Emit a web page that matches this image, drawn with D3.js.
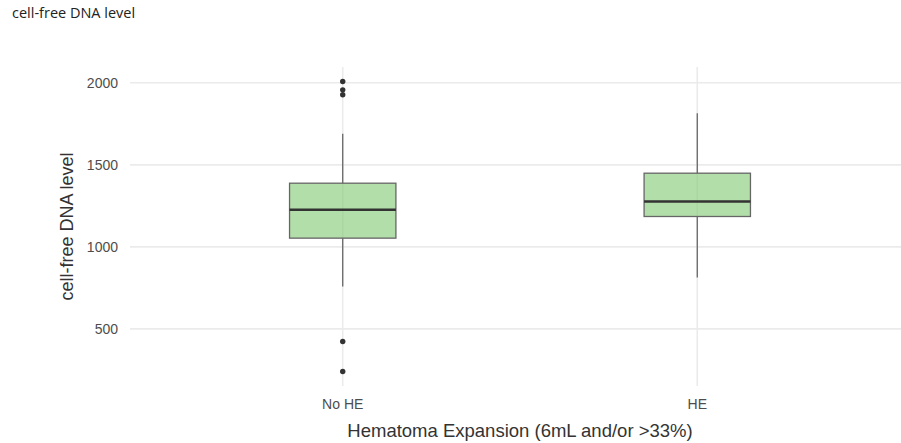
<!DOCTYPE html>
<html>
<head>
<meta charset="utf-8">
<script src="https://cdn.jsdelivr.net/npm/d3@7"></script>
<style>
  html, body { margin: 0; padding: 0; background: #fff; }
  svg { display: block; }
</style>
</head>
<body>
<script>
// Box-plot summaries of cell-free DNA level by hematoma expansion group
const groups     = ["No HE", "HE"];
const whiskerLow = [758, 813];
const q1         = [1053, 1185];
const medians    = [1226, 1276];
const q3         = [1388, 1449];
const whiskerHigh= [1689, 1815];
const outliers   = [[2008, 1957, 1927, 423, 240], []];
const yTicks     = [500, 1000, 1500, 2000];

const W = 901, H = 443;
const panel = { left: 130, right: 910, top: 67, bottom: 386 };

const svg = d3.select("body").append("svg")
  .attr("width", W).attr("height", H);

// y domain: full data range with 5% padding on each side
const allVals = whiskerLow.concat(whiskerHigh, outliers.flat());
const lo = d3.min(allVals), hi = d3.max(allVals);
const pad = (hi - lo) * 0.05;

const y = d3.scaleLinear()
  .domain([lo - pad, hi + pad])
  .range([panel.bottom, panel.top]);

const x = d3.scalePoint()
  .domain(groups)
  .range([panel.left, panel.right])
  .padding(0.6);

const boxW = x.step() * 0.3;

// grid
const grid = svg.append("g");
grid.selectAll("line.h").data(yTicks).join("line")
  .attr("x1", panel.left).attr("x2", panel.right)
  .attr("y1", d => y(d)).attr("y2", d => y(d))
  .attr("stroke", "#ebebeb").attr("stroke-width", 1.6);
grid.selectAll("line.v").data(groups).join("line")
  .attr("x1", d => x(d)).attr("x2", d => x(d))
  .attr("y1", panel.top).attr("y2", panel.bottom)
  .attr("stroke", "#ebebeb").attr("stroke-width", 1.6);

// y tick labels
svg.append("g").selectAll("text").data(yTicks).join("text")
  .attr("x", 118).attr("y", d => y(d))
  .attr("dy", "0.35em")
  .attr("text-anchor", "end")
  .attr("font-family", "Liberation Sans, Arial, sans-serif")
  .attr("font-size", 14)
  .attr("fill", "#4d4d4d")
  .text(d => d);

// x tick labels
svg.append("g").selectAll("text").data(groups).join("text")
  .attr("x", d => x(d)).attr("y", 409)
  .attr("text-anchor", "middle")
  .attr("font-family", "Liberation Sans, Arial, sans-serif")
  .attr("font-size", 14)
  .attr("fill", "#4d4d4d")
  .text(d => d);

// boxes
const boxes = svg.append("g").selectAll("g").data(groups).join("g");

boxes.append("line")
  .attr("x1", d => x(d)).attr("x2", d => x(d))
  .attr("y1", (d, i) => y(whiskerHigh[i])).attr("y2", (d, i) => y(q3[i]))
  .attr("stroke", "#666").attr("stroke-width", 1.3);
boxes.append("line")
  .attr("x1", d => x(d)).attr("x2", d => x(d))
  .attr("y1", (d, i) => y(q1[i])).attr("y2", (d, i) => y(whiskerLow[i]))
  .attr("stroke", "#666").attr("stroke-width", 1.3);

boxes.append("rect")
  .attr("x", d => x(d) - boxW / 2)
  .attr("width", boxW)
  .attr("y", (d, i) => y(q3[i]))
  .attr("height", (d, i) => y(q1[i]) - y(q3[i]))
  .attr("fill", "#7fc870").attr("fill-opacity", 0.6)
  .attr("stroke", "#666").attr("stroke-width", 1.3);

boxes.append("line")
  .attr("x1", d => x(d) - boxW / 2).attr("x2", d => x(d) + boxW / 2)
  .attr("y1", (d, i) => y(medians[i])).attr("y2", (d, i) => y(medians[i]))
  .attr("stroke", "#333").attr("stroke-width", 2.4);

boxes.each(function (d, i) {
  d3.select(this).selectAll("circle").data(outliers[i]).join("circle")
    .attr("cx", x(d)).attr("cy", v => y(v))
    .attr("r", 2.7).attr("fill", "#333");
});

// axis titles
svg.append("text")
  .attr("x", (panel.left + panel.right) / 2).attr("y", 437)
  .attr("text-anchor", "middle")
  .attr("font-family", "Liberation Sans, Arial, sans-serif")
  .attr("font-size", 18.5)
  .attr("fill", "#333")
  .text("Hematoma Expansion (6mL and/or >33%)");

svg.append("text")
  .attr("transform", `translate(73,${(panel.top + panel.bottom) / 2}) rotate(-90)`)
  .attr("text-anchor", "middle")
  .attr("font-family", "Liberation Sans, Arial, sans-serif")
  .attr("font-size", 18)
  .attr("fill", "#333")
  .text("cell-free DNA level");

// chart title
svg.append("text")
  .attr("x", 12).attr("y", 18)
  .attr("font-family", "Open Sans, Noto Sans, sans-serif")
  .attr("font-size", 14.5)
  .attr("fill", "#222")
  .text("cell-free DNA level");
</script>
</body>
</html>
